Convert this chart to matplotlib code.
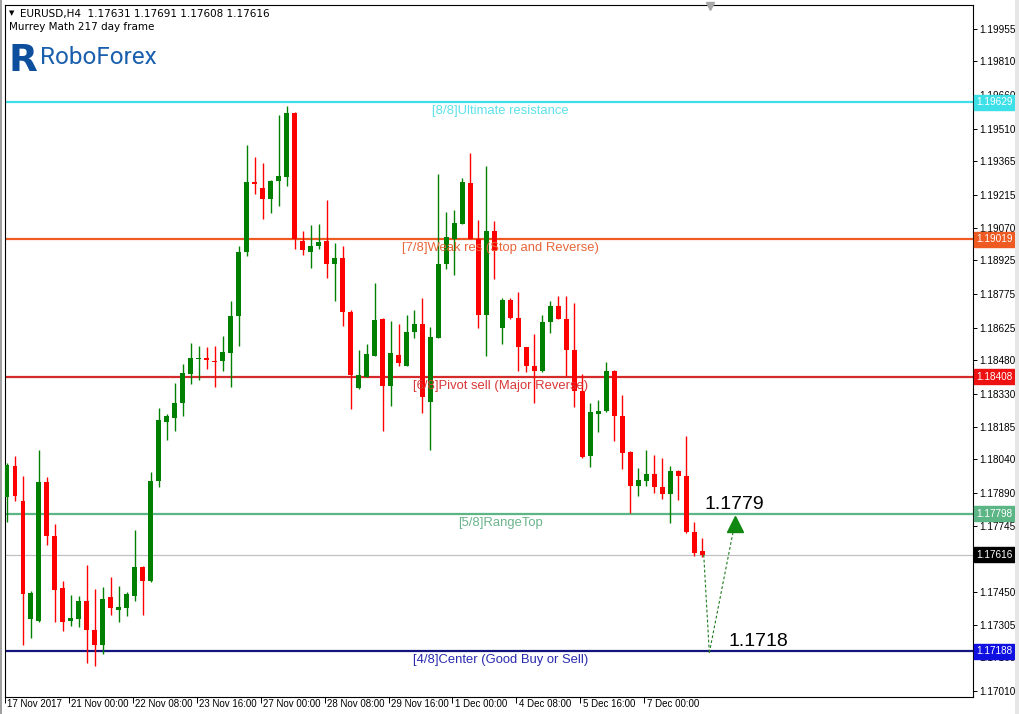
import matplotlib
matplotlib.use('Agg')
import matplotlib.pyplot as plt
import matplotlib.transforms as mtransforms
import numpy as np

# ---------------- data (EURUSD H4) ----------------
opens = [1.17871, 1.18009, 1.17855, 1.17331, 1.17323, 1.17939, 1.17701, 1.17466, 1.17320, 1.17331,
         1.17410, 1.17283, 1.17215, 1.17426, 1.17371, 1.17379, 1.17434, 1.17561, 1.17498, 1.17946,
         1.18208, 1.18225, 1.18289, 1.18419, 1.18487, 1.18490, 1.18479, 1.18479, 1.18514, 1.18676,
         1.18962, 1.19272, 1.19245, 1.19197, 1.19280, 1.19296, 1.19581, 1.19010, 1.18964, 1.18991,
         1.19010, 1.18911, 1.18935, 1.18697, 1.18358, 1.18406, 1.18501, 1.18665, 1.18366, 1.18506,
         1.18454, 1.18606, 1.18641, 1.18295, 1.18581, 1.18908, 1.19019, 1.19086, 1.19268, 1.19022,
         1.18681, 1.19057, 1.18622, 1.18748, 1.18670, 1.18538, 1.18454, 1.18432, 1.18649, 1.18724,
         1.18665, 1.18527, 1.18343, 1.18054, 1.18244, 1.18257, 1.18435, 1.18231, 1.18073, 1.17923,
         1.17946, 1.17977, 1.17918, 1.17887, 1.17990, 1.17966, 1.17717, 1.17631]
highs = [1.18025, 1.18054, 1.17966, 1.17453, 1.18081, 1.17961, 1.17752, 1.17501, 1.17437, 1.17431,
         1.17572, 1.17463, 1.17474, 1.17517, 1.17479, 1.17450, 1.17728, 1.17564, 1.17982, 1.18268,
         1.18244, 1.18379, 1.18463, 1.18557, 1.18546, 1.18538, 1.18546, 1.18589, 1.18744, 1.18987,
         1.19438, 1.19384, 1.19356, 1.19284, 1.19570, 1.19613, 1.19584, 1.19054, 1.19083, 1.19086,
         1.19192, 1.19002, 1.18987, 1.18705, 1.18525, 1.18554, 1.18824, 1.18670, 1.18654, 1.18644,
         1.18681, 1.18705, 1.18756, 1.18628, 1.19311, 1.19141, 1.19149, 1.19289, 1.19403, 1.19105,
         1.19343, 1.19102, 1.18756, 1.18756, 1.18784, 1.18541, 1.18597, 1.18681, 1.18744, 1.18765,
         1.18765, 1.18736, 1.18419, 1.18289, 1.18304, 1.18474, 1.18438, 1.18327, 1.18076, 1.18003,
         1.18082, 1.18061, 1.18046, 1.18009, 1.17993, 1.18146, 1.17760, 1.17691]
lows = [1.17760, 1.17855, 1.17215, 1.17244, 1.17315, 1.17660, 1.17315, 1.17275, 1.17299, 1.17294,
        1.17134, 1.17121, 1.17175, 1.17347, 1.17315, 1.17342, 1.17410, 1.17347, 1.17494, 1.17919,
        1.18128, 1.18168, 1.18231, 1.18376, 1.18395, 1.18443, 1.18363, 1.18432, 1.18363, 1.18546,
        1.18946, 1.19221, 1.19110, 1.19137, 1.19168, 1.19257, 1.18975, 1.18951, 1.18892, 1.18975,
        1.18848, 1.18744, 1.18633, 1.18263, 1.18355, 1.18406, 1.18498, 1.18165, 1.18279, 1.18454,
        1.18454, 1.18581, 1.18247, 1.18082, 1.18581, 1.18887, 1.18860, 1.19086, 1.19018, 1.18625,
        1.18501, 1.18843, 1.18554, 1.18665, 1.18435, 1.18427, 1.18289, 1.18427, 1.18601, 1.18665,
        1.18411, 1.18273, 1.18046, 1.18006, 1.18162, 1.18252, 1.18120, 1.17998, 1.17803, 1.17879,
        1.17923, 1.17891, 1.17863, 1.17755, 1.17860, 1.17712, 1.17609, 1.17608]
closes = [1.18014, 1.17879, 1.17442, 1.17445, 1.17939, 1.17701, 1.17458, 1.17315, 1.17334, 1.17410,
          1.17283, 1.17215, 1.17421, 1.17379, 1.17383, 1.17442, 1.17561, 1.17498, 1.17946, 1.18217,
          1.18231, 1.18289, 1.18422, 1.18490, 1.18492, 1.18482, 1.18473, 1.18517, 1.18676, 1.18962,
          1.19273, 1.19264, 1.19197, 1.19280, 1.19300, 1.19578, 1.19018, 1.18972, 1.18987, 1.19006,
          1.18911, 1.18935, 1.18694, 1.18416, 1.18416, 1.18509, 1.18660, 1.18366, 1.18511, 1.18470,
          1.18606, 1.18641, 1.18316, 1.18586, 1.18911, 1.19030, 1.19091, 1.19273, 1.19018, 1.18681,
          1.19057, 1.18967, 1.18748, 1.18670, 1.18538, 1.18454, 1.18432, 1.18649, 1.18724, 1.18665,
          1.18527, 1.18343, 1.18050, 1.18252, 1.18257, 1.18435, 1.18231, 1.18069, 1.17923, 1.17950,
          1.17977, 1.17918, 1.17887, 1.17990, 1.17966, 1.17717, 1.17622, 1.17616]

x_tick_labels = ['17 Nov 2017', '21 Nov 00:00', '22 Nov 08:00', '23 Nov 16:00', '27 Nov 00:00',
                 '28 Nov 08:00', '29 Nov 16:00', '1 Dec 00:00', '4 Dec 08:00', '5 Dec 16:00',
                 '7 Dec 00:00']
x_tick_bars = [0, 8, 16, 24, 32, 40, 48, 56, 64, 72, 80]
y_ticks = [1.19955, 1.19810, 1.19660, 1.19510, 1.19365, 1.19215, 1.19070, 1.18925, 1.18775,
           1.18625, 1.18480, 1.18330, 1.18185, 1.18040, 1.17890, 1.17745, 1.17600, 1.17450,
           1.17305, 1.17160, 1.17010]

levels = [1.19629, 1.19019, 1.18408, 1.17798, 1.17188]
level_names = ['[8/8]Ultimate resistance', '[7/8]Weak res (Stop and Reverse)',
               '[6/8]Pivot sell (Major Reverse)', '[5/8]RangeTop', '[4/8]Center (Good Buy or Sell)']
level_line_colors = ['#3EE0E8', '#EE5A22', '#D42A2A', '#5BB585', '#14147E']
level_text_colors = ['#5EE2EA', '#E8663A', '#D83838', '#6AB48C', '#2A2AB0']
level_box_colors = ['#3EE0E8', '#EE5A22', '#EE1111', '#5BB585', '#1010E0']
bid_price = 1.17616

forecast_bars = [87.2, 87.9, 91.1]
forecast_prices = [1.17616, 1.1718, 1.1779]
forecast_texts = ['1.1779', '1.1718']

header = 'EURUSD,H4  1.17631 1.17691 1.17608 1.17616'
subheader = 'Murrey Math 217 day frame'

# ---------------- figure ----------------
W, H = 1020, 714
fig = plt.figure(figsize=(W / 100, H / 100), dpi=100)
fig.patch.set_facecolor('white')
L, R, T, B = 5, 973, 5, 697
ax = fig.add_axes([L / W, 1 - B / H, (R - L) / W, (B - T) / H])
ax.set_facecolor('white')

n = len(opens)
xs = np.arange(n)
o = np.array(opens); c = np.array(closes); hi = np.array(highs); lo = np.array(lows)
up = c >= o
cols = np.where(up, '#008000', '#FF0000')

ax.set_xlim(-0.125, 120.9)
ax.set_ylim(1.169835, 1.200604)

# levels
for lv, lc in zip(levels, level_line_colors):
    ax.axhline(lv, color=lc, lw=1.6, zorder=1)
ax.axhline(bid_price, color='#C0C0C0', lw=0.9, zorder=1)

# candles
ax.vlines(xs, lo, hi, colors=cols, lw=1.0, zorder=3)
body_bottom = np.minimum(o, c)
body_h = np.maximum(np.abs(c - o), 0.00005)
ax.bar(xs, body_h, bottom=body_bottom, width=0.62, color=cols, linewidth=0, zorder=4)

# level labels
for lv, name, tc in zip(levels, level_names, level_text_colors):
    ax.annotate(name, xy=(0.512, lv), xycoords=('axes fraction', 'data'),
                xytext=(0, -2.3), textcoords='offset points', ha='center', va='top',
                fontsize=9.4, color=tc, family='Liberation Sans', zorder=5)

# price boxes on the right scale
for lv, bc in zip(levels, level_box_colors):
    ax.annotate(f'{lv:.5f}', xy=(1.0, lv), xycoords=('axes fraction', 'data'),
                xytext=(2.2, 0), textcoords='offset points', ha='left', va='center',
                fontsize=7.2, color='white', family='Liberation Sans', annotation_clip=False,
                bbox=dict(boxstyle='square,pad=0.25', fc=bc, ec=bc), zorder=10)
ax.annotate(f'{bid_price:.5f}', xy=(1.0, bid_price), xycoords=('axes fraction', 'data'),
            xytext=(2.2, 0), textcoords='offset points', ha='left', va='center',
            fontsize=7.2, color='white', family='Liberation Sans', annotation_clip=False,
            bbox=dict(boxstyle='square,pad=0.25', fc='black', ec='black'), zorder=10)

# forecast path
ax.plot(forecast_bars[:2], forecast_prices[:2], ls=(0, (2.5, 2)), color='#1E7A1E', lw=0.8, zorder=6)
tip_px = ax.transData.transform((forecast_bars[2], forecast_prices[2]))
shaft_end = ax.transData.inverted().transform((tip_px[0] - 1, tip_px[1] - 12))
ax.plot([forecast_bars[1], shaft_end[0]], [forecast_prices[1], shaft_end[1]],
        ls=(0, (2.5, 2)), color='#1E7A1E', lw=0.8, zorder=6)
head_tr = mtransforms.offset_copy(ax.transData, fig=fig, x=0, y=-8, units='dots')
ax.plot([forecast_bars[2]], [forecast_prices[2]], marker='^', ms=11, color='#118811',
        mec='#118811', transform=head_tr, zorder=7)
ax.annotate(forecast_texts[0], xy=(forecast_bars[2], forecast_prices[2]), xytext=(-22, 5),
            textcoords='offset points', ha='left', va='baseline', fontsize=14,
            family='Liberation Sans', color='black', zorder=8)
ax.annotate(forecast_texts[1], xy=(forecast_bars[1], forecast_prices[1]), xytext=(14, 5),
            textcoords='offset points', ha='left', va='baseline', fontsize=14,
            family='Liberation Sans', color='black', zorder=8)

# shift marker at top
ax.plot([88], [1.200604], marker='v', ms=6, color='#A8A8A8', clip_on=False, zorder=9,
        transform=mtransforms.offset_copy(ax.transData, fig=fig, x=0, y=-1, units='dots'))

# axes styling
for s in ax.spines.values():
    s.set_color('black'); s.set_linewidth(0.8)
ax.yaxis.tick_right()
ax.set_yticks(y_ticks)
ax.set_yticklabels([f'{v:.5f}' for v in y_ticks])
ax.tick_params(axis='y', direction='out', length=3, width=0.7, pad=1.2, labelsize=7.2,
               colors='black')
ax.set_xticks(np.array(x_tick_bars) - 0.25)
ax.set_xticklabels(x_tick_labels)
ax.tick_params(axis='x', direction='out', length=4, width=0.7, pad=-2.3, labelsize=7,
               colors='black')
off = mtransforms.ScaledTranslation(2.5 / 100, 0, fig.dpi_scale_trans)
for lbl in ax.get_xticklabels():
    lbl.set_ha('left')
    lbl.set_family('Liberation Sans')
    lbl.set_transform(lbl.get_transform() + off)
for lbl in ax.get_yticklabels():
    lbl.set_family('Liberation Sans')

# header texts
fig.text(9 / W, 1 - 13.5 / H, '\u25BC', fontsize=5, family='DejaVu Sans', va='center', ha='left')
fig.text(20 / W, 1 - 13.5 / H, header, fontsize=7.5, family='DejaVu Sans', va='center', ha='left')
fig.text(9 / W, 1 - 27 / H, subheader, fontsize=7.5, family='DejaVu Sans', va='center', ha='left')

# logo
fig.text(8 / W, 1 - 71 / H, 'R', fontsize=27, family='DejaVu Sans', weight='heavy',
         color='#0D4F9C', va='baseline', ha='left')
fig.text(40 / W, 1 - 63.5 / H, 'RoboForex', fontsize=17.5, family='Roboto',
         color='#1A5FAD', va='baseline', ha='left')

# window frame pieces
fig.add_artist(plt.Rectangle((0, 0), 2.5 / W, 1, transform=fig.transFigure, color='#A0A0A0', lw=0))
fig.add_artist(plt.Rectangle((1015 / W, 0), 5 / W, 1, transform=fig.transFigure, color='#E6E6E6', lw=0))

fig.savefig('out.png', dpi=100)
